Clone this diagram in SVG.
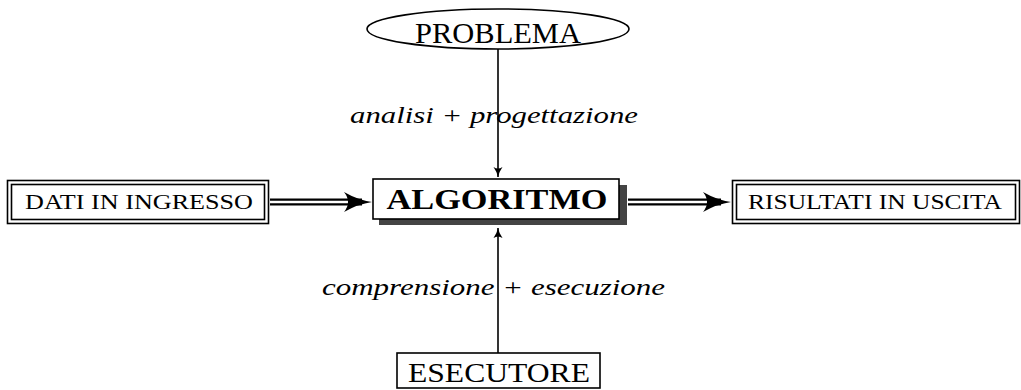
<svg xmlns="http://www.w3.org/2000/svg" width="1021" height="390" viewBox="0 0 1021 390">
<style>
.t{font-family:"Liberation Serif","DejaVu Serif",serif;fill:#000}
.b{fill:#fff;stroke:#000;stroke-width:1.6}
.ln{stroke:#000;stroke-width:1.6;fill:none}
.it{font-style:italic;font-size:24px}
</style>
<defs>
<marker id="ah" markerWidth="12" markerHeight="12" refX="10" refY="6" orient="auto" markerUnits="userSpaceOnUse">
<path d="M0,1.5 Q5,5 10,6 Q5,7 0,10.5 Q3,6 0,1.5Z" fill="#000"/>
</marker>
</defs>
<g id="connectors">
<line class="ln" x1="498" y1="49" x2="498" y2="177" marker-end="url(#ah)"/>
<line class="ln" x1="498" y1="353" x2="498" y2="228" marker-end="url(#ah)"/>
<g id="dbl-left">
<line x1="270" y1="202" x2="362" y2="202" stroke="#000" stroke-width="7"/>
<line x1="270" y1="202" x2="364" y2="202" stroke="#fff" stroke-width="2.6"/>
<path d="M344,192 Q358,200 372,202 Q358,204 344,212 Q352,202 344,192Z" fill="#000"/>
</g>
<g id="dbl-right">
<line x1="628" y1="202" x2="721" y2="202" stroke="#000" stroke-width="7"/>
<line x1="628" y1="202" x2="723" y2="202" stroke="#fff" stroke-width="2.6"/>
<path d="M703,192 Q717,200 731,202 Q717,204 703,212 Q711,202 703,192Z" fill="#000"/>
</g>
</g>
<text class="t it" x="350" y="123" textLength="288" lengthAdjust="spacingAndGlyphs">analisi + progettazione</text>
<text class="t it" x="322" y="295" textLength="343" lengthAdjust="spacingAndGlyphs">comprensione + esecuzione</text>
<g id="problema">
<ellipse class="b" cx="498" cy="29" rx="131" ry="20" stroke-width="2"/>
<text class="t" x="498" y="43" font-size="29" text-anchor="middle" textLength="166" lengthAdjust="spacingAndGlyphs">PROBLEMA</text>
</g>
<g id="algoritmo">
<rect x="379" y="185" width="248" height="40" fill="#444"/>
<rect class="b" x="373" y="179" width="246" height="40"/>
<text class="t" x="497" y="209" font-size="30" font-weight="bold" text-anchor="middle" textLength="221" lengthAdjust="spacingAndGlyphs">ALGORITMO</text>
</g>
<g id="esecutore">
<rect class="b" x="397" y="353" width="203" height="35"/>
<text class="t" x="499" y="382" font-size="28" text-anchor="middle" textLength="182" lengthAdjust="spacingAndGlyphs">ESECUTORE</text>
</g>
<g id="dati">
<rect class="b" x="7.5" y="180.5" width="261" height="43"/>
<rect class="b" x="11.5" y="184.5" width="253" height="35"/>
<text class="t" x="139" y="209" font-size="21" text-anchor="middle" textLength="228" lengthAdjust="spacingAndGlyphs">DATI IN INGRESSO</text>
</g>
<g id="risultati">
<rect class="b" x="732.5" y="180.5" width="287" height="43"/>
<rect class="b" x="736.5" y="184.5" width="279" height="35"/>
<text class="t" x="875" y="209" font-size="21" text-anchor="middle" textLength="254" lengthAdjust="spacingAndGlyphs">RISULTATI IN USCITA</text>
</g>
</svg>
